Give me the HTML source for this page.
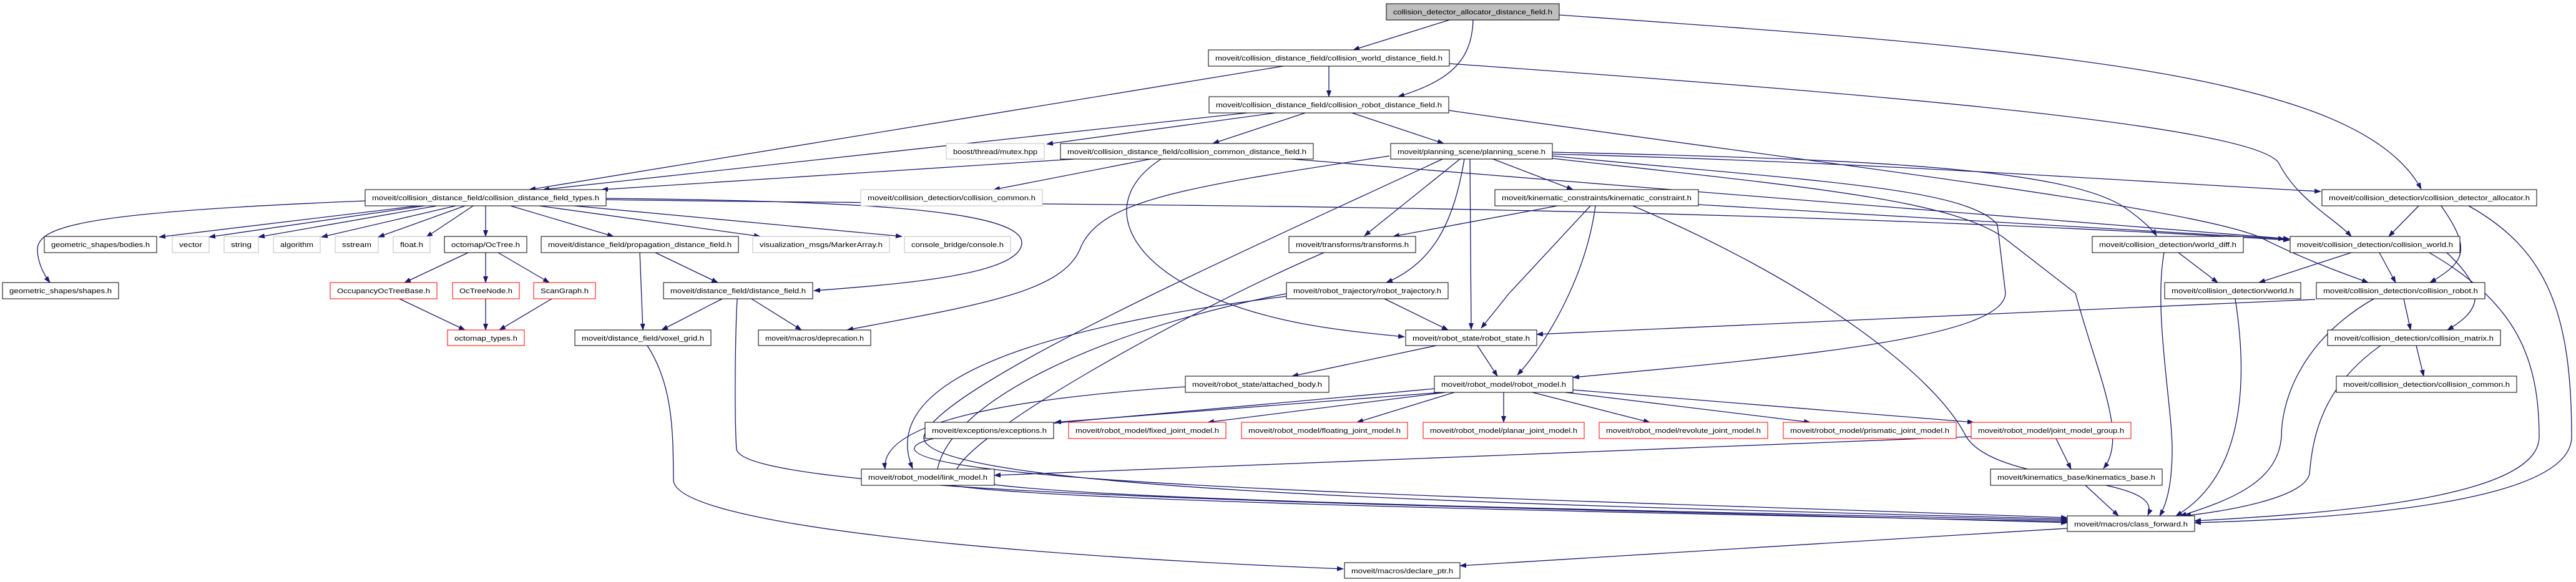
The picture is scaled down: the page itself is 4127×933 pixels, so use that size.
<!DOCTYPE html>
<html><head><meta charset="utf-8"><style>
html,body{margin:0;padding:0;background:#fff;}
svg{display:block;}
text{font-family:"Liberation Sans",sans-serif;font-size:11px;fill:#000;}
.e{fill:none;stroke:#191970;stroke-width:1.3;}
.n{fill:#fff;stroke:#000;stroke-width:1;}
.g{fill:#fff;stroke:#bfbfbf;stroke-width:1;}
.r{fill:#fff;stroke:#ff0000;stroke-width:1;}
.s{fill:#555;}
</style></head><body>
<svg width="4127" height="933" viewBox="0 0 4127 933" xmlns="http://www.w3.org/2000/svg">
<defs>
<marker id="a" markerWidth="11" markerHeight="8" refX="10" refY="4" orient="auto" markerUnits="userSpaceOnUse"><path d="M0,0 L11,4 L0,8 z" fill="#191970"/></marker>
</defs>
<g marker-end="url(#a)">
<!-- top -->
<path class="e" d="M2322,32 L2168,80"/>
<path class="e" d="M2360,32 C2358,100 2320,130 2240,155"/>
<path class="e" d="M2498,24 C3300,80 3780,120 3879,303"/>
<!-- world distance field -->
<path class="e" d="M2056,106 L848,304"/>
<path class="e" d="M2129,106 L2129,155"/>
<path class="e" d="M2322,102 C3000,150 3600,200 3650,260 C3680,320 3740,350 3767,379"/>
<!-- robot distance field -->
<path class="e" d="M1998,181 L870,304"/>
<path class="e" d="M2043,181 L1677,231"/>
<path class="e" d="M2091,181 L1943,230"/>
<path class="e" d="M2166,181 L2313,230"/>
<path class="e" d="M2321,177 C2900,260 3500,330 3620,380 C3700,420 3760,440 3794,453"/>
<!-- types -->
<path class="e" d="M585,322 C150,340 60,360 60,400 C60,420 70,440 80,453"/>
<path class="e" d="M670,330 L255,380"/>
<path class="e" d="M680,330 L335,380"/>
<path class="e" d="M700,330 L414,380"/>
<path class="e" d="M730,330 L515,380"/>
<path class="e" d="M745,330 L606,380"/>
<path class="e" d="M758,330 L683,380"/>
<path class="e" d="M778,330 L778,379"/>
<path class="e" d="M818,330 L983,379"/>
<path class="e" d="M864,330 L1218,379"/>
<path class="e" d="M920,330 L1445,379"/>
<path class="e" d="M971,318 C1300,322 1640,330 1637,390 C1634,440 1450,455 1304,466"/>
<path class="e" d="M971,320 C1500,330 2600,320 3668,385"/>
<!-- octree -->
<path class="e" d="M750,405 L648,453"/>
<path class="e" d="M778,405 L778,453"/>
<path class="e" d="M798,405 L880,453"/>
<path class="e" d="M640,479 L745,529"/>
<path class="e" d="M778,479 L778,529"/>
<path class="e" d="M884,479 L800,529"/>
<!-- propagation / distance field -->
<path class="e" d="M1025,405 L1030,529"/>
<path class="e" d="M1050,405 L1150,453"/>
<path class="e" d="M1157,479 L1060,529"/>
<path class="e" d="M1204,479 L1284,529"/>
<path class="e" d="M1181,479 C1177,560 1177,680 1180,720 C1190,800 2400,810 3312,838"/>
<path class="e" d="M1037,554 C1080,620 1078,700 1079,770 C1082,840 1600,890 2152,912"/>
<!-- common distance field -->
<path class="e" d="M1843,255 L1592,304"/>
<path class="e" d="M1721,255 L964,304"/>
<path class="e" d="M1860,255 C1760,320 1800,420 1950,480 C2050,520 2150,530 2250,540"/>
<path class="e" d="M2070,255 C2600,300 3300,350 3668,383"/>
<!-- planning scene -->
<path class="e" d="M2226,250 C1900,300 1760,320 1730,400 C1700,470 1560,490 1357,529"/>
<path class="e" d="M2355,255 L2357,528"/>
<path class="e" d="M2346,255 C2330,350 2300,420 2221,453"/>
<path class="e" d="M2339,255 L2186,378"/>
<path class="e" d="M2311,255 C2000,400 1500,620 1480,700 C1470,790 2500,810 3312,832"/>
<path class="e" d="M2392,255 L2520,304"/>
<path class="e" d="M2487,247 C3000,260 3400,290 3718,307"/>
<path class="e" d="M2487,244 C3000,255 3300,270 3400,330 C3430,350 3450,370 3455,378"/>
<path class="e" d="M2487,250 C2900,290 3150,300 3200,360 L3213,470 C3210,540 2900,570 2520,605"/>
<path class="e" d="M2487,254 C2900,300 3120,320 3209,380 L3325,470 C3360,600 3410,700 3370,751"/>
<!-- kinematic constraint -->
<path class="e" d="M2495,330 L2232,379"/>
<path class="e" d="M2548,330 L2418,470 L2373,526"/>
<path class="e" d="M2556,330 C2540,450 2470,560 2431,601"/>
<path class="e" d="M2616,330 C2900,450 3100,600 3150,700 C3200,780 3470,760 3441,826"/>
<path class="e" d="M2721,328 L3660,383"/>
<!-- transforms / trajectory -->
<path class="e" d="M2121,405 C1900,500 1540,700 1530,760 C1520,800 2500,815 3312,834"/>
<path class="e" d="M2218,479 L2320,529"/>
<path class="e" d="M2061,475 C1700,520 1400,600 1462,751"/>
<path class="e" d="M2065,470 C1800,520 1500,640 1500,770 C1500,800 2500,820 3312,836"/>
<!-- robot state -->
<path class="e" d="M2301,554 L2070,603"/>
<path class="e" d="M2367,554 L2399,603"/>
<!-- attached body -->
<path class="e" d="M1899,620 C1600,640 1410,680 1418,752"/>
<!-- robot model -->
<path class="e" d="M2310,629 L1690,677"/>
<path class="e" d="M2316,629 L1935,677"/>
<path class="e" d="M2330,629 L2174,677"/>
<path class="e" d="M2409,629 L2409,677"/>
<path class="e" d="M2455,629 L2643,677"/>
<path class="e" d="M2508,629 L2900,677"/>
<path class="e" d="M2520,625 L3162,677"/>
<path class="e" d="M2298,623 C1700,680 1460,690 1465,720 C1480,780 2500,800 3312,830"/>
<path class="e" d="M3158,700 L1593,762"/>
<path class="e" d="M3294,703 L3318,752"/>
<path class="e" d="M3341,778 L3394,827"/>
<path class="e" d="M3312,847 L2339,907"/>
<!-- collision detection -->
<path class="e" d="M3875,330 L3827,379"/>
<path class="e" d="M3911,330 C3960,400 3950,420 3893,453"/>
<path class="e" d="M3955,330 C4080,400 4120,500 4120,700 C4120,800 3800,830 3516,838"/>
<path class="e" d="M3490,405 L3553,453"/>
<path class="e" d="M3467,405 C3450,500 3480,650 3480,720 C3480,780 3470,810 3460,827"/>
<path class="e" d="M3767,405 L3619,453"/>
<path class="e" d="M3812,405 L3838,453"/>
<path class="e" d="M3920,405 C3990,470 3970,500 3921,529"/>
<path class="e" d="M3892,405 C4020,480 4068,560 4068,700 C4068,790 3800,820 3516,835"/>
<path class="e" d="M3581,479 C3600,600 3600,760 3486,827"/>
<path class="e" d="M3851,479 L3862,529"/>
<path class="e" d="M3803,479 C3680,550 3655,650 3655,700 C3650,770 3580,800 3493,827"/>
<path class="e" d="M3709,480 L2462,536"/>
<path class="e" d="M3871,554 L3883,603"/>
<path class="e" d="M3814,554 C3720,620 3705,700 3700,760 C3690,800 3560,820 3500,827"/>
</g>
<g>
<!-- nodes -->
<rect x="2221" y="6" width="277" height="26" fill="#bfbfbf" stroke="#000"/><text x="2232" y="23" textLength="255" lengthAdjust="spacingAndGlyphs">collision_detector_allocator_distance_field.h</text>
<rect class="n" x="1936" y="80" width="386" height="26"/><text x="1947" y="97" textLength="364" lengthAdjust="spacingAndGlyphs">moveit/collision_distance_field/collision_world_distance_field.h</text>
<rect class="n" x="1937" y="155" width="384" height="26"/><text x="1948" y="172" textLength="362" lengthAdjust="spacingAndGlyphs">moveit/collision_distance_field/collision_robot_distance_field.h</text>
<rect class="g" x="1516" y="230" width="157" height="25"/><text x="1527" y="247" textLength="135" lengthAdjust="spacingAndGlyphs">boost/thread/mutex.hpp</text>
<rect class="n" x="1699" y="230" width="405" height="25"/><text x="1710" y="247" textLength="383" lengthAdjust="spacingAndGlyphs">moveit/collision_distance_field/collision_common_distance_field.h</text>
<rect class="n" x="2228" y="230" width="259" height="25"/><text x="2239" y="247" textLength="237" lengthAdjust="spacingAndGlyphs">moveit/planning_scene/planning_scene.h</text>
<rect class="n" x="585" y="304" width="386" height="26"/><text x="596" y="321" textLength="364" lengthAdjust="spacingAndGlyphs">moveit/collision_distance_field/collision_distance_field_types.h</text>
<rect class="g" x="1379" y="304" width="291" height="26"/><text x="1390" y="321" textLength="269" lengthAdjust="spacingAndGlyphs">moveit/collision_detection/collision_common.h</text>
<rect class="n" x="2395" y="304" width="326" height="26"/><text x="2406" y="321" textLength="304" lengthAdjust="spacingAndGlyphs">moveit/kinematic_constraints/kinematic_constraint.h</text>
<rect class="n" x="3720" y="304" width="344" height="26"/><text x="3731" y="321" textLength="322" lengthAdjust="spacingAndGlyphs">moveit/collision_detection/collision_detector_allocator.h</text>
<rect class="n" x="71" y="379" width="180" height="26"/><text x="82" y="396" textLength="158" lengthAdjust="spacingAndGlyphs">geometric_shapes/bodies.h</text>
<rect class="g" x="276" y="379" width="59" height="26"/><text x="287" y="396" textLength="37" lengthAdjust="spacingAndGlyphs">vector</text>
<rect class="g" x="359" y="379" width="55" height="26"/><text x="370" y="396" textLength="33" lengthAdjust="spacingAndGlyphs">string</text>
<rect class="g" x="438" y="379" width="75" height="26"/><text x="449" y="396" textLength="53" lengthAdjust="spacingAndGlyphs">algorithm</text>
<rect class="g" x="537" y="379" width="69" height="26"/><text x="548" y="396" textLength="47" lengthAdjust="spacingAndGlyphs">sstream</text>
<rect class="g" x="630" y="379" width="59" height="26"/><text x="641" y="396" textLength="37" lengthAdjust="spacingAndGlyphs">float.h</text>
<rect class="n" x="712" y="379" width="132" height="26"/><text x="723" y="396" textLength="110" lengthAdjust="spacingAndGlyphs">octomap/OcTree.h</text>
<rect class="n" x="867" y="379" width="316" height="26"/><text x="878" y="396" textLength="294" lengthAdjust="spacingAndGlyphs">moveit/distance_field/propagation_distance_field.h</text>
<rect class="g" x="1206" y="379" width="219" height="26"/><text x="1217" y="396" textLength="197" lengthAdjust="spacingAndGlyphs">visualization_msgs/MarkerArray.h</text>
<rect class="g" x="1449" y="379" width="170" height="26"/><text x="1460" y="396" textLength="148" lengthAdjust="spacingAndGlyphs">console_bridge/console.h</text>
<rect class="n" x="2065" y="379" width="203" height="26"/><text x="2076" y="396" textLength="181" lengthAdjust="spacingAndGlyphs">moveit/transforms/transforms.h</text>
<rect class="n" x="3352" y="379" width="242" height="26"/><text x="3363" y="396" textLength="220" lengthAdjust="spacingAndGlyphs">moveit/collision_detection/world_diff.h</text>
<rect class="n" x="3669" y="379" width="272" height="26"/><text x="3680" y="396" textLength="250" lengthAdjust="spacingAndGlyphs">moveit/collision_detection/collision_world.h</text>
<rect class="n" x="4" y="453" width="186" height="26"/><text x="15" y="470" textLength="164" lengthAdjust="spacingAndGlyphs">geometric_shapes/shapes.h</text>
<rect class="r" x="529" y="453" width="171" height="26"/><text x="540" y="470" textLength="149" lengthAdjust="spacingAndGlyphs">OccupancyOcTreeBase.h</text>
<rect class="r" x="725" y="453" width="107" height="26"/><text x="736" y="470" textLength="85" lengthAdjust="spacingAndGlyphs">OcTreeNode.h</text>
<rect class="r" x="855" y="453" width="99" height="26"/><text x="866" y="470" textLength="77" lengthAdjust="spacingAndGlyphs">ScanGraph.h</text>
<rect class="n" x="1063" y="453" width="239" height="26"/><text x="1074" y="470" textLength="217" lengthAdjust="spacingAndGlyphs">moveit/distance_field/distance_field.h</text>
<rect class="n" x="2061" y="453" width="259" height="26"/><text x="2072" y="470" textLength="237" lengthAdjust="spacingAndGlyphs">moveit/robot_trajectory/robot_trajectory.h</text>
<rect class="n" x="3468" y="453" width="218" height="26"/><text x="3479" y="470" textLength="196" lengthAdjust="spacingAndGlyphs">moveit/collision_detection/world.h</text>
<rect class="n" x="3711" y="453" width="270" height="26"/><text x="3722" y="470" textLength="248" lengthAdjust="spacingAndGlyphs">moveit/collision_detection/collision_robot.h</text>
<rect class="r" x="717" y="529" width="123" height="25"/><text x="728" y="546" textLength="101" lengthAdjust="spacingAndGlyphs">octomap_types.h</text>
<rect class="n" x="921" y="529" width="218" height="25"/><text x="932" y="546" textLength="196" lengthAdjust="spacingAndGlyphs">moveit/distance_field/voxel_grid.h</text>
<rect class="n" x="1215" y="529" width="180" height="25"/><text x="1226" y="546" textLength="158" lengthAdjust="spacingAndGlyphs">moveit/macros/deprecation.h</text>
<rect class="n" x="2252" y="529" width="210" height="25"/><text x="2263" y="546" textLength="188" lengthAdjust="spacingAndGlyphs">moveit/robot_state/robot_state.h</text>
<rect class="n" x="3729" y="529" width="277" height="25"/><text x="3740" y="546" textLength="255" lengthAdjust="spacingAndGlyphs">moveit/collision_detection/collision_matrix.h</text>
<rect class="n" x="1899" y="603" width="230" height="26"/><text x="1910" y="620" textLength="208" lengthAdjust="spacingAndGlyphs">moveit/robot_state/attached_body.h</text>
<rect class="n" x="2298" y="603" width="222" height="26"/><text x="2309" y="620" textLength="200" lengthAdjust="spacingAndGlyphs">moveit/robot_model/robot_model.h</text>
<rect class="n" x="3743" y="603" width="289" height="26"/><text x="3754" y="620" textLength="267" lengthAdjust="spacingAndGlyphs">moveit/collision_detection/collision_common.h</text>
<rect class="n" x="1482" y="677" width="206" height="26"/><text x="1493" y="694" textLength="184" lengthAdjust="spacingAndGlyphs">moveit/exceptions/exceptions.h</text>
<rect class="r" x="1712" y="677" width="252" height="26"/><text x="1723" y="694" textLength="230" lengthAdjust="spacingAndGlyphs">moveit/robot_model/fixed_joint_model.h</text>
<rect class="r" x="1989" y="677" width="266" height="26"/><text x="2000" y="694" textLength="244" lengthAdjust="spacingAndGlyphs">moveit/robot_model/floating_joint_model.h</text>
<rect class="r" x="2280" y="677" width="258" height="26"/><text x="2291" y="694" textLength="236" lengthAdjust="spacingAndGlyphs">moveit/robot_model/planar_joint_model.h</text>
<rect class="r" x="2562" y="677" width="270" height="26"/><text x="2573" y="694" textLength="248" lengthAdjust="spacingAndGlyphs">moveit/robot_model/revolute_joint_model.h</text>
<rect class="r" x="2857" y="677" width="277" height="26"/><text x="2868" y="694" textLength="255" lengthAdjust="spacingAndGlyphs">moveit/robot_model/prismatic_joint_model.h</text>
<rect class="r" x="3158" y="677" width="256" height="26"/><text x="3169" y="694" textLength="234" lengthAdjust="spacingAndGlyphs">moveit/robot_model/joint_model_group.h</text>
<rect class="n" x="1380" y="752" width="213" height="26"/><text x="1391" y="769" textLength="191" lengthAdjust="spacingAndGlyphs">moveit/robot_model/link_model.h</text>
<rect class="n" x="3189" y="752" width="275" height="26"/><text x="3200" y="769" textLength="253" lengthAdjust="spacingAndGlyphs">moveit/kinematics_base/kinematics_base.h</text>
<rect class="n" x="3312" y="827" width="204" height="25"/><text x="3323" y="844" textLength="182" lengthAdjust="spacingAndGlyphs">moveit/macros/class_forward.h</text>
<rect class="n" x="2154" y="902" width="185" height="25"/><text x="2165" y="919" textLength="163" lengthAdjust="spacingAndGlyphs">moveit/macros/declare_ptr.h</text>
</g>
</svg>
</body></html>
